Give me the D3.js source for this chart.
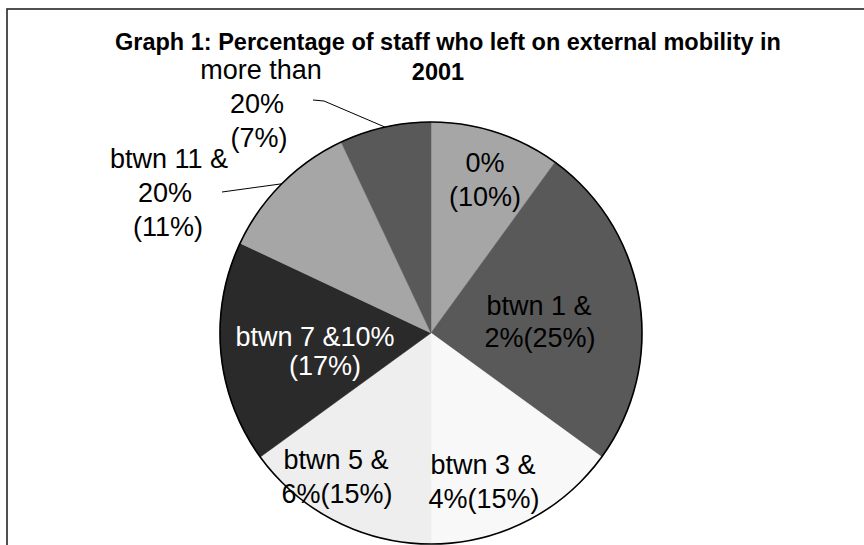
<!DOCTYPE html>
<html>
<head>
<meta charset="utf-8">
<script src="https://cdn.jsdelivr.net/npm/d3@7"></script>
<style>
  body { margin: 0; background: #fff; }
  text { font-family: "Liberation Sans", Arial, sans-serif; }
</style>
</head>
<body>
<svg id="chart" width="864" height="545"></svg>
<script>
// data
var categories = ['0%', 'btwn 1 & 2%', 'btwn 3 & 4%', 'btwn 5 & 6%', 'btwn 7 & 10%', 'btwn 11 & 20%', 'more than 20%'];
var shares = [10, 25, 15, 15, 17, 11, 7];
var labelLines = [
  ['0%', '(10%)'],
  ['btwn 1 &', '2%(25%)'],
  ['btwn 3 &', '4%(15%)'],
  ['btwn 5 &', '6%(15%)'],
  ['btwn 7 &10%', '(17%)'],
  ['btwn 11 &', '20%', '(11%)'],
  ['more than', '20%', '(7%)']
];
var titleLines = ['Graph 1: Percentage of staff who left on external mobility in', '2001'];

// styles
var sliceGreys = ['#a6a6a6', '#595959', '#f8f8f8', '#eeeeee', '#2a2a2a', '#a6a6a6', '#595959'];
var textFill = ['#000', '#000', '#000', '#000', '#fff', '#000', '#000'];

var cx = 431, cy = 333, radius = 211;

// where Excel left each label (x per line, first baseline, line step)
var labelLayout = [
  { xs: [485, 485], y: 172, step: 34 },
  { xs: [539, 540], y: 315, step: 32 },
  { xs: [483, 484], y: 474, step: 34 },
  { xs: [336, 337], y: 469, step: 34 },
  { xs: [315, 325], y: 346, step: 29 },
  { xs: [169, 165, 168], y: 168, step: 34 },
  { xs: [261, 257, 259], y: 79, step: 34 }
];
// label side of the leader lines (slice index -> points before the pie edge)
var leaderStarts = { 5: [[222, 192]], 6: [[313, 100], [324, 101]] };

var svg = d3.select('#chart');

// chart frame, only top and left edges fall inside the picture
svg.append('rect')
  .attr('x', 7).attr('y', 9)
  .attr('width', 960).attr('height', 700)
  .attr('fill', 'none')
  .attr('stroke', '#262626')
  .attr('stroke-width', 1.6);

var pie = d3.pie().sort(null).value(function(d) { return d; });
var arcs = pie(shares);
var arc = d3.arc().innerRadius(0).outerRadius(radius);
var edgeArc = d3.arc().innerRadius(radius).outerRadius(radius);

var g = svg.append('g').attr('transform', 'translate(' + cx + ',' + cy + ')');

g.selectAll('path.slice').data(arcs).enter()
  .append('path')
    .attr('class', 'slice')
    .attr('d', arc)
    .attr('fill', function(d, i) { return sliceGreys[i]; })
    .attr('stroke', function(d, i) { return sliceGreys[i]; })
    .attr('stroke-width', 0.5);

g.append('circle')
  .attr('r', radius)
  .attr('fill', 'none')
  .attr('stroke', '#000')
  .attr('stroke-width', 1.6);

// leader lines for the two outside labels
Object.keys(leaderStarts).forEach(function(k) {
  var i = +k;
  var end = edgeArc.centroid(arcs[i]);
  var pts = leaderStarts[i].concat([[cx + end[0], cy + end[1]]]);
  svg.append('path')
    .attr('d', d3.line()(pts))
    .attr('fill', 'none')
    .attr('stroke', '#000')
    .attr('stroke-width', 1);
});

// slice labels
arcs.forEach(function(d, i) {
  var lay = labelLayout[i];
  var t = svg.append('text')
    .attr('font-size', 27)
    .attr('text-anchor', 'middle')
    .attr('fill', textFill[i]);
  labelLines[i].forEach(function(line, j) {
    t.append('tspan')
      .attr('x', lay.xs[j])
      .attr('y', lay.y + j * lay.step)
      .text(line);
  });
});

// title
svg.append('text')
  .attr('x', 448).attr('y', 50)
  .attr('text-anchor', 'middle')
  .attr('font-size', 23.5)
  .attr('font-weight', 'bold')
  .text(titleLines[0]);
svg.append('text')
  .attr('x', 438).attr('y', 80)
  .attr('text-anchor', 'middle')
  .attr('font-size', 23.5)
  .attr('font-weight', 'bold')
  .text(titleLines[1]);
</script>
</body>
</html>
